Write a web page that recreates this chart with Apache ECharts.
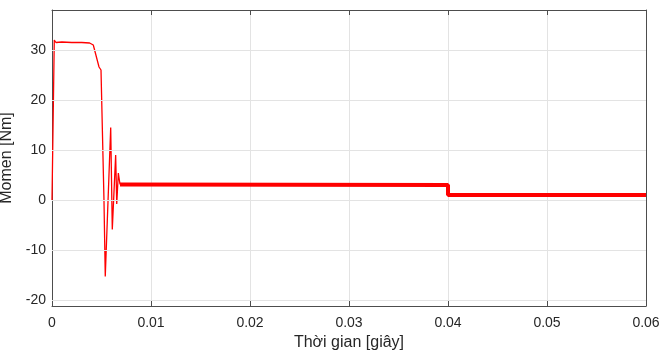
<!DOCTYPE html>
<html><head><meta charset="utf-8">
<script src="https://cdn.jsdelivr.net/npm/echarts@6/dist/echarts.min.js"></script>
<style>html,body{margin:0;padding:0;background:#fff}#c{width:659px;height:350px}</style>
</head><body><div id="c"></div>
<script>
// transient part (time in s, torque in Nm)
const transientT = [0, 0.00023, 0.0004, 0.001, 0.002, 0.003, 0.0038, 0.00417, 0.0045, 0.00475, 0.00495, 0.0051, 0.00525, 0.00538, 0.00593, 0.00609, 0.00643, 0.00654, 0.0067, 0.00687];
const transientV = [0, 32.0, 31.5, 31.6, 31.5, 31.5, 31.4, 31.0, 28.5, 26.6, 26.0, 25.6, 0, -15.3, 14.5, -5.9, 9.0, -0.8, 5.4, 3.1];
// steady-state part
const steadyT = [0.00687, 0.0400, 0.0400, 0.0600];
const steadyV = [3.1, 3.0, 1.0, 1.0];
const xTicks = [0, 0.01, 0.02, 0.03, 0.04, 0.05, 0.06];
const yTicks = [-20, -10, 0, 10, 20, 30];

const chart = echarts.init(document.getElementById('c'));
const txt = '#262626';
const axisCol = '#4d4d4d';
const gridCol = '#e3e3e3';
const font = 'Liberation Sans, Arial, sans-serif';
chart.setOption({
  animation: false,
  grid: {left: 52, right: 13, top: 10, bottom: 44, containLabel: false, outerBoundsMode: 'none'},
  xAxis: [{
    type: 'value', min: 0, max: 0.06, interval: 0.01,
    name: 'Thời gian [giây]', nameLocation: 'middle', nameGap: 27,
    nameTextStyle: {fontFamily: font, fontSize: 16, color: txt, verticalAlign: 'top'},
    axisLine: {show: true, onZero: false, lineStyle: {color: axisCol, width: 1}},
    axisTick: {show: true, inside: true, length: 5, lineStyle: {color: axisCol}},
    axisLabel: {fontFamily: font, fontSize: 14, color: txt, margin: 10},
    splitLine: {show: true, lineStyle: {color: gridCol, width: 1}}
  }, {
    type: 'value', position: 'top', min: 0, max: 0.06, interval: 0.01,
    axisLine: {show: true, onZero: false, lineStyle: {color: axisCol, width: 1}},
    axisTick: {show: true, inside: true, length: 5, lineStyle: {color: axisCol}},
    axisLabel: {show: false}, splitLine: {show: false}
  }],
  yAxis: [{
    type: 'value', min: -21.2, max: 38,
    name: 'Momen [Nm]', nameLocation: 'middle', nameGap: 30,
    nameTextStyle: {fontFamily: font, fontSize: 16, color: txt},
    axisLine: {show: true, onZero: false, lineStyle: {color: axisCol, width: 1}},
    axisTick: {show: true, inside: true, length: 5, customValues: yTicks, lineStyle: {color: axisCol}},
    axisLabel: {fontFamily: font, fontSize: 14, color: txt, margin: 6, customValues: yTicks},
    splitLine: {show: false}
  }, {
    type: 'value', position: 'right', min: -21.2, max: 38,
    axisLine: {show: true, onZero: false, lineStyle: {color: axisCol, width: 1}},
    axisTick: {show: true, inside: true, length: 5, customValues: yTicks, lineStyle: {color: axisCol}},
    axisLabel: {show: false, customValues: yTicks}, splitLine: {show: false}
  }],
  series: [{
    type: 'line', xAxisIndex: 0, yAxisIndex: 0, symbol: 'none', silent: true,
    data: [],
    markLine: {
      silent: true, symbol: 'none', label: {show: false},
      lineStyle: {color: gridCol, width: 1, type: 'solid'},
      data: yTicks.map(v => ({yAxis: v}))
    },
    z: 1
  }, {
    type: 'line', symbol: 'none', silent: true,
    lineStyle: {color: '#ff0000', width: 1.3},
    data: transientT.map((t, i) => [t, transientV[i]]), z: 3
  }, {
    type: 'line', symbol: 'none', silent: true,
    lineStyle: {color: '#ff0000', width: 4},
    data: steadyT.map((t, i) => [t, steadyV[i]]), z: 3
  }]
});
</script></body></html>
